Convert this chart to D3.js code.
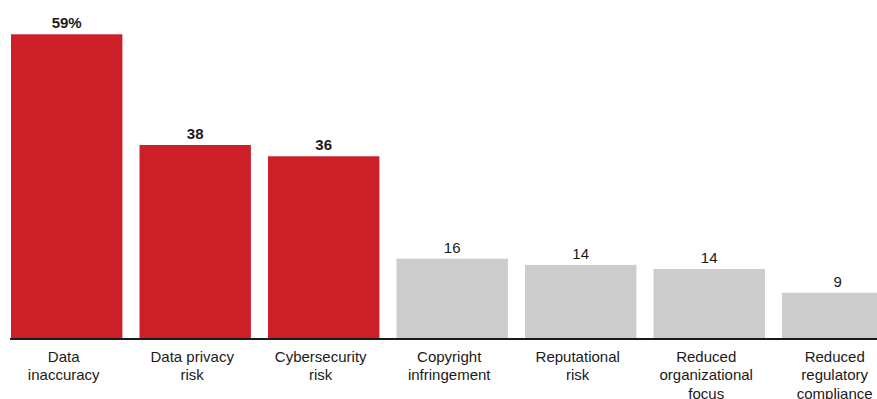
<!DOCTYPE html>
<html>
<head>
<meta charset="utf-8">
<script src="https://cdn.jsdelivr.net/npm/d3@7/dist/d3.min.js"></script>
<style>
  html, body { margin: 0; padding: 0; background: #fff; }
  svg { display: block; font-family: "Liberation Sans", Arial, sans-serif; }
</style>
</head>
<body>
<div id="chart"></div>
<script>
// Categories, wrapped the way the original labels break
var categories = [
  ["Data", "inaccuracy"],
  ["Data privacy", "risk"],
  ["Cybersecurity", "risk"],
  ["Copyright", "infringement"],
  ["Reputational", "risk"],
  ["Reduced", "organizational", "focus"],
  ["Reduced", "regulatory", "compliance"]
];
var values = [59, 37.5, 35.3, 15.4, 14.2, 13.4, 8.8];
var valueLabels = ["59%", "38", "36", "16", "14", "14", "9"];
var highlighted = [true, true, true, false, false, false, false];

var width = 877, height = 399;
var baseline = 338;

var keys = categories.map(function(c) { return c.join(" "); });

var x = d3.scaleBand()
    .domain(keys)
    .range([11, 893.4])
    .paddingInner(0.133)
    .paddingOuter(0);

var y = d3.scaleLinear()
    .domain([0, 59])
    .range([baseline, 34.3]);

var svg = d3.select("#chart").append("svg")
    .attr("width", width)
    .attr("height", height);

var data = keys.map(function(k, i) {
    return { key: k, lines: categories[i], value: values[i], label: valueLabels[i], hi: highlighted[i] };
});

svg.append("g")
   .selectAll("rect")
   .data(data)
   .enter().append("rect")
   .attr("x", function(d) { return x(d.key); })
   .attr("y", function(d) { return y(d.value); })
   .attr("width", x.bandwidth())
   .attr("height", function(d) { return baseline - y(d.value); })
   .attr("fill", function(d) { return d.hi ? "#cc1f28" : "#cccccc"; });

svg.append("g")
   .selectAll("text")
   .data(data)
   .enter().append("text")
   .attr("x", function(d) { return x(d.key) + x.bandwidth() / 2; })
   .attr("y", function(d) { return y(d.value) - 6; })
   .attr("text-anchor", "middle")
   .attr("font-size", "15px")
   .attr("font-weight", function(d) { return d.hi ? "bold" : "normal"; })
   .attr("fill", "#1a1a1a")
   .text(function(d) { return d.label; });

// x axis: just the baseline and the wrapped category names
var xAxis = d3.axisBottom(x).tickSize(0).tickFormat("");
var gx = svg.append("g")
   .attr("transform", "translate(0," + (baseline + 1) + ")")
   .call(xAxis);
gx.select(".domain")
  .attr("d", "M10,0H" + width)
  .attr("stroke", "#1a1a1a")
  .attr("stroke-width", 2);

gx.selectAll(".tick text").remove();
gx.selectAll(".tick").each(function(k, i) {
    var t = d3.select(this).append("text")
        .attr("text-anchor", "middle")
        .attr("font-size", "15px")
        .attr("fill", "#1a1a1a")
        .attr("y", 22.5);
    categories[i].forEach(function(line, j) {
        t.append("tspan")
         .attr("x", -3)
         .attr("dy", j === 0 ? 0 : 18.8)
         .text(line);
    });
});
</script>
</body>
</html>
